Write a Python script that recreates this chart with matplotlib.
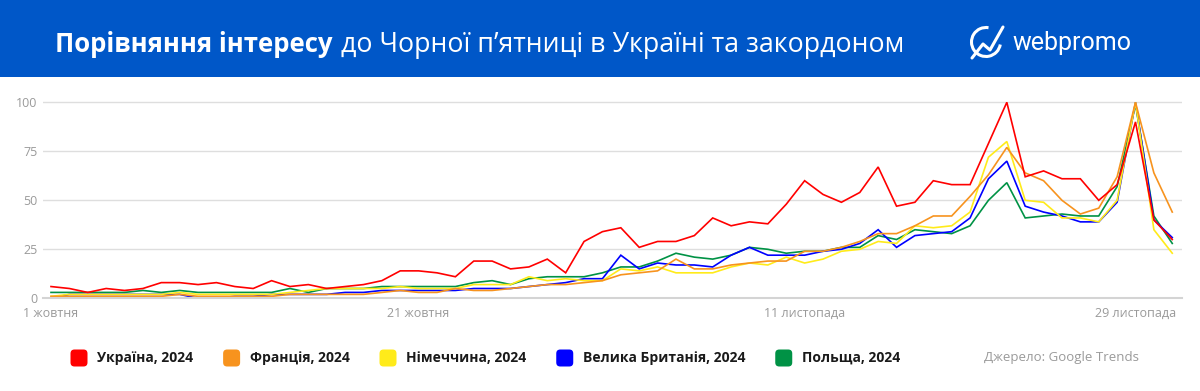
# Порівняння інтересу до Чорної п'ятниці (Google Trends, 2024)
import numpy as np
import pandas as pd
import matplotlib
matplotlib.use('Agg')
import matplotlib.pyplot as plt
import matplotlib.dates as mdates
from matplotlib.patches import Rectangle, FancyBboxPatch, Arc
from matplotlib.lines import Line2D

plt.rcParams['font.family'] = ['Open Sans', 'DejaVu Sans']

# Data (daily, 1 Oct - 1 Dec 2024)
dates = pd.date_range('2024-10-01', '2024-12-01', freq='D')
ukraine = [6, 5, 3, 5, 4, 5, 8, 8, 7, 8, 6, 5, 9, 6, 7, 5, 6, 7, 9, 14,
           14, 13, 11, 19, 19, 15, 16, 20, 13, 29, 34, 36, 26, 29, 29, 32, 41, 37, 39, 38,
           48, 60, 53, 49, 54, 67, 47, 49, 60, 58, 58, 79, 100, 62, 65, 61, 61, 50, 58, 90,
           40, 30]
france = [1, 1, 1, 1, 1, 1, 1, 2, 1, 1, 1, 1, 1, 2, 2, 2, 2, 2, 3, 4,
          3, 3, 5, 4, 4, 5, 6, 7, 7, 8, 9, 12, 13, 14, 20, 15, 15, 17, 18, 19,
          19, 24, 24, 26, 29, 33, 33, 37, 42, 42, 52, 63, 77, 64, 60, 50, 43, 46, 62, 100,
          64, 44]
germany = [1, 2, 2, 2, 2, 2, 2, 3, 2, 2, 2, 2, 2, 3, 4, 5, 5, 5, 5, 6,
           5, 5, 5, 7, 7, 7, 11, 9, 10, 9, 9, 15, 14, 16, 13, 13, 13, 16, 18, 17,
           21, 18, 20, 24, 25, 29, 28, 37, 36, 37, 44, 72, 80, 50, 49, 41, 41, 39, 50, 100,
           35, 23]
uk = [0, 2, 2, 2, 2, 2, 2, 2, 0, 0, 1, 1, 2, 2, 2, 2, 3, 3, 4, 4,
      4, 4, 4, 5, 5, 5, 6, 7, 8, 10, 10, 22, 15, 18, 17, 17, 16, 22, 26, 22,
      22, 22, 24, 25, 28, 35, 26, 32, 33, 34, 41, 61, 70, 47, 44, 42, 39, 39, 49, 100,
      40, 31]
poland = [3, 3, 3, 3, 3, 4, 3, 4, 3, 3, 3, 3, 3, 5, 3, 5, 5, 5, 6, 6,
          6, 6, 6, 8, 9, 7, 10, 11, 11, 11, 13, 16, 16, 19, 23, 21, 20, 22, 26, 25,
          23, 24, 24, 26, 26, 32, 30, 35, 34, 33, 37, 50, 59, 41, 42, 43, 42, 42, 57, 99,
          42, 28]

series_names = ['Україна, 2024', 'Франція, 2024', 'Німеччина, 2024',
                'Велика Британія, 2024', 'Польща, 2024']
series_colors = ['#FF0000', '#F7931E', '#FFEB1A', '#0000FF', '#009245']
series_values = [ukraine, france, germany, uk, poland]

tick_dates = ['2024-10-01', '2024-10-21', '2024-11-11', '2024-11-29']
tick_labels = ['1 жовтня', '21 жовтня', '11 листопада', '29 листопада']
y_ticks = [0, 25, 50, 75, 100]

W, H = 1200, 391
fig = plt.figure(figsize=(W / 100, H / 100), dpi=100)

def fx(px):
    return px / W

def fy(py):
    return 1 - py / H

# header band
fig.add_artist(Rectangle((0, fy(77)), 1, 77 / H, transform=fig.transFigure,
                         facecolor='#0057C8', edgecolor='none', zorder=0))

# plot area
ax = fig.add_axes([fx(43), fy(298.3), fx(1182 - 43), (298.3 - 98.4) / H])
x0 = mdates.date2num(dates[0])
ax.set_xlim(x0 - 0.435, x0 + 61.53)
ax.set_ylim(0, 102)

# red drawn last so it stays on top
for name, col, vals in reversed(list(zip(series_names, series_colors, series_values))):
    ax.plot(dates, vals, color=col, lw=1.2, label=name, solid_joinstyle='miter')

ax.set_yticks(y_ticks)
ax.set_xticks(pd.to_datetime(tick_dates))
ax.set_xticklabels(tick_labels)
ax.yaxis.grid(True, color='#dedede', lw=1)
ax.set_axisbelow(True)
for s in ['top', 'right', 'left']:
    ax.spines[s].set_visible(False)
ax.spines['bottom'].set_color('#d4d4d4')
ax.spines['bottom'].set_linewidth(1.5)
ax.tick_params(axis='both', length=0, labelsize=9, labelcolor='#9a9a9a')
ax.tick_params(axis='y', pad=4)
ax.tick_params(axis='x', pad=6)

renderer = fig.canvas.get_renderer()

# title: bold part + regular part
t1 = fig.text(fx(55), fy(52), 'Порівняння інтересу', color='white', size=18.5,
              weight='bold', va='baseline', ha='left')
bb = t1.get_window_extent(renderer)
fig.text(fx(bb.x1 + 1), fy(52), ' до Чорної п\u2019ятниці в Україні та закордоном',
         color='white', size=19.3, va='baseline', ha='left')

# logo
tr = fig.dpi_scale_trans
fig.add_artist(Arc((9.86, (H - 42) / 100), 0.29, 0.29, theta1=80, theta2=350,
                   transform=tr, color='white', lw=2.2))
fig.add_artist(Line2D([9.72, 9.83, 9.90, 10.03],
                      [(H - 58) / 100, (H - 44) / 100, (H - 50) / 100, (H - 27) / 100],
                      transform=tr, color='white', lw=2.2, solid_capstyle='round'))
fig.text(fx(1012), fy(50), 'webpromo', color='white', size=18, va='baseline', ha='left',
         family=['Roboto', 'DejaVu Sans'])

# legend
lx = 70
ly = 358
for name, col in zip(series_names, series_colors):
    fig.add_artist(FancyBboxPatch(((lx + 2) / 100, (H - ly - 7) / 100), 0.14, 0.14,
                                  boxstyle='round,pad=0.015,rounding_size=0.04',
                                  transform=tr, facecolor=col, edgecolor='none'))
    t = fig.text(fx(lx + 27), fy(ly), name, size=10, weight='bold', color='#1a1a1a',
                 va='center', ha='left')
    lx = t.get_window_extent(renderer).x1 + 29.5

fig.text(fx(984), fy(ly), 'Джерело: Google Trends', size=9.5, color='#9a9a9a',
         va='center', ha='left')

fig.savefig('out.png', dpi=100)
